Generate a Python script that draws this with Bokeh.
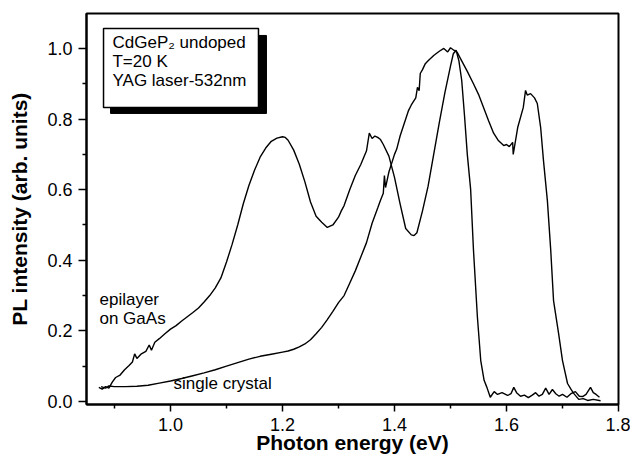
import math
from bokeh.plotting import figure
from bokeh.models import Range1d, Label, BoxAnnotation, FixedTicker, PrintfTickFormatter
from bokeh.embed import file_html
from bokeh.resources import INLINE

# ---- data ----
epi_x = [0.872, 0.878, 0.884, 0.890, 0.896, 0.902, 0.910, 0.918, 0.926, 0.932,
         0.936, 0.940, 0.948, 0.956, 0.962, 0.966, 0.972, 0.980, 0.990, 1.000,
         1.010, 1.020, 1.030, 1.040, 1.050, 1.060, 1.070, 1.080, 1.090, 1.100,
         1.110, 1.120, 1.130, 1.140, 1.150, 1.160, 1.170, 1.180, 1.190, 1.200,
         1.205, 1.210, 1.220, 1.230, 1.240, 1.250, 1.260, 1.270, 1.280, 1.290,
         1.300, 1.305, 1.310, 1.320, 1.330, 1.340, 1.350, 1.355, 1.360, 1.365,
         1.370, 1.375, 1.380, 1.390, 1.400, 1.410, 1.420, 1.430, 1.435, 1.440,
         1.450, 1.460, 1.470, 1.480, 1.490, 1.500, 1.505, 1.510, 1.515, 1.520,
         1.525, 1.530, 1.536, 1.541, 1.548, 1.554, 1.560, 1.565, 1.571, 1.578,
         1.584, 1.592, 1.602, 1.608, 1.613, 1.618, 1.625, 1.632, 1.639, 1.646,
         1.652, 1.658, 1.664, 1.670, 1.676, 1.682, 1.688, 1.694, 1.700, 1.708,
         1.715, 1.723, 1.730, 1.736, 1.742, 1.750, 1.755, 1.760, 1.766]
epi_y = [0.040, 0.035, 0.042, 0.038, 0.055, 0.068, 0.075, 0.090, 0.102, 0.112,
         0.135, 0.122, 0.135, 0.142, 0.160, 0.145, 0.168, 0.178, 0.192, 0.205,
         0.215, 0.228, 0.240, 0.252, 0.265, 0.282, 0.300, 0.322, 0.350, 0.395,
         0.445, 0.500, 0.560, 0.612, 0.655, 0.692, 0.718, 0.737, 0.746, 0.750,
         0.748, 0.740, 0.712, 0.672, 0.622, 0.565, 0.525, 0.508, 0.493, 0.500,
         0.522, 0.540, 0.555, 0.600, 0.640, 0.672, 0.710, 0.760, 0.745, 0.752,
         0.748, 0.742, 0.728, 0.695, 0.635, 0.560, 0.490, 0.472, 0.470, 0.478,
         0.540, 0.610, 0.700, 0.790, 0.875, 0.950, 0.985, 0.995, 0.965, 0.910,
         0.810, 0.700, 0.600, 0.430, 0.240, 0.116, 0.060, 0.040, 0.012, 0.028,
         0.020, 0.025, 0.017, 0.022, 0.040, 0.025, 0.015, 0.018, 0.011, 0.018,
         0.025, 0.015, 0.020, 0.038, 0.020, 0.034, 0.022, 0.015, 0.020, 0.012,
         0.022, 0.028, 0.015, 0.014, 0.020, 0.040, 0.025, 0.020, 0.012]

sc_x = [0.876, 0.884, 0.890, 0.900, 0.920, 0.940, 0.960, 0.980, 1.000, 1.020,
        1.040, 1.060, 1.080, 1.100, 1.120, 1.140, 1.160, 1.180, 1.200, 1.210,
        1.220, 1.230, 1.240, 1.250, 1.260, 1.270, 1.280, 1.290, 1.300, 1.310,
        1.320, 1.330, 1.340, 1.350, 1.360, 1.370, 1.375, 1.380, 1.382, 1.384,
        1.390, 1.400, 1.404, 1.410, 1.420, 1.425, 1.430, 1.438, 1.441, 1.444,
        1.446, 1.450, 1.455, 1.460, 1.470, 1.480, 1.488, 1.495, 1.500, 1.506,
        1.512, 1.520, 1.530, 1.541, 1.550, 1.559, 1.568, 1.577, 1.585, 1.595,
        1.600, 1.605, 1.611, 1.612, 1.620, 1.630, 1.634, 1.637, 1.643, 1.650,
        1.655, 1.661, 1.666, 1.673, 1.679, 1.684, 1.693, 1.700, 1.709, 1.715,
        1.720, 1.729, 1.737, 1.745, 1.755, 1.768]
sc_y = [0.042, 0.038, 0.044, 0.042, 0.042, 0.043, 0.046, 0.052, 0.058, 0.065,
        0.073, 0.081, 0.090, 0.100, 0.110, 0.120, 0.128, 0.134, 0.140, 0.143,
        0.148, 0.155, 0.163, 0.175, 0.192, 0.210, 0.232, 0.255, 0.280, 0.300,
        0.335, 0.370, 0.410, 0.450, 0.505, 0.548, 0.570, 0.590, 0.640, 0.606,
        0.650, 0.700, 0.715, 0.752, 0.800, 0.824, 0.840, 0.860, 0.890, 0.880,
        0.929, 0.940, 0.957, 0.965, 0.980, 0.992, 1.000, 0.990, 1.002, 0.995,
        0.989, 0.965, 0.935, 0.900, 0.870, 0.833, 0.795, 0.760, 0.740, 0.725,
        0.728, 0.722, 0.734, 0.700, 0.776, 0.833, 0.881, 0.868, 0.872, 0.860,
        0.844, 0.776, 0.683, 0.569, 0.428, 0.286, 0.193, 0.116, 0.051, 0.035,
        0.023, 0.006, 0.008, 0.003, 0.006, 0.002]

x_major = [1.0, 1.2, 1.4, 1.6, 1.8]
x_minor = [0.9, 1.1, 1.3, 1.5, 1.7]
y_major = [0.0, 0.2, 0.4, 0.6, 0.8, 1.0]
y_minor = [0.1, 0.3, 0.5, 0.7, 0.9]

FONT = "Liberation Sans"

p = figure(width=630, height=459, output_backend="svg", toolbar_location=None,
           x_range=Range1d(0.85, 1.8), y_range=Range1d(-0.0085, 1.099),
           min_border_left=86, min_border_right=12, min_border_top=13,
           min_border_bottom=55)

p.xgrid.visible = False
p.ygrid.visible = False
p.outline_line_color = "black"
p.outline_line_width = 2
p.background_fill_color = "white"
p.border_fill_color = "white"

p.xaxis.ticker = FixedTicker(ticks=x_major, minor_ticks=x_minor)
p.yaxis.ticker = FixedTicker(ticks=y_major, minor_ticks=y_minor)
p.xaxis.formatter = PrintfTickFormatter(format="%.1f")
p.yaxis.formatter = PrintfTickFormatter(format="%.1f")
for ax in (p.xaxis, p.yaxis):
    ax.axis_line_width = 2
    ax.axis_line_color = "black"
    ax.major_tick_line_color = "black"
    ax.minor_tick_line_color = "black"
    ax.major_tick_line_width = 1.5
    ax.minor_tick_line_width = 1.5
    ax.major_tick_in = 0
    ax.minor_tick_in = 0
    ax.minor_tick_out = 4
    ax.major_label_text_font = FONT
    ax.major_label_text_font_size = "18px"
    ax.major_label_text_color = "black"
    ax.axis_label_text_font = FONT
    ax.axis_label_text_font_size = "21px"
    ax.axis_label_text_font_style = "bold"
    ax.axis_label_text_color = "black"
p.xaxis.major_tick_out = 7
p.yaxis.major_tick_out = 8
p.xaxis.major_label_standoff = 6
p.yaxis.major_label_standoff = 6
p.xaxis.axis_label = "Photon energy (eV)"
p.yaxis.axis_label = "PL intensity (arb. units)"
p.xaxis.axis_label_standoff = -3
p.yaxis.axis_label_standoff = 13

p.line(sc_x, sc_y, line_color="black", line_width=1.4)
p.line(epi_x, epi_y, line_color="black", line_width=1.4)

# info box with shadow
p.add_layout(BoxAnnotation(left=0.8929, right=1.1714, top=1.0368, bottom=0.8159,
                           fill_color="black", fill_alpha=1.0, line_color="black",
                           line_alpha=1.0, line_width=1))
p.add_layout(BoxAnnotation(left=0.8804, right=1.1571, top=1.0567, bottom=0.8329,
                           fill_color="white", fill_alpha=1.0, line_color="black",
                           line_alpha=1.0, line_width=1.5))

def lab(x, y, t, size="17px", **kw):
    p.add_layout(Label(x=x, y=y, text=t, text_font=FONT, text_font_size=size,
                       text_color="black", **kw))

lab(0.8964, 0.9887, "CdGeP\u2082 undoped")
lab(0.8964, 0.935, "T=20 K")
lab(0.8964, 0.881, "YAG laser-532nm")
lab(0.8732, 0.263, "epilayer")
lab(0.8732, 0.207, "on GaAs")
lab(1.0054, 0.0227, "single crystal")

open("out.html", "w").write(file_html(p, INLINE))
